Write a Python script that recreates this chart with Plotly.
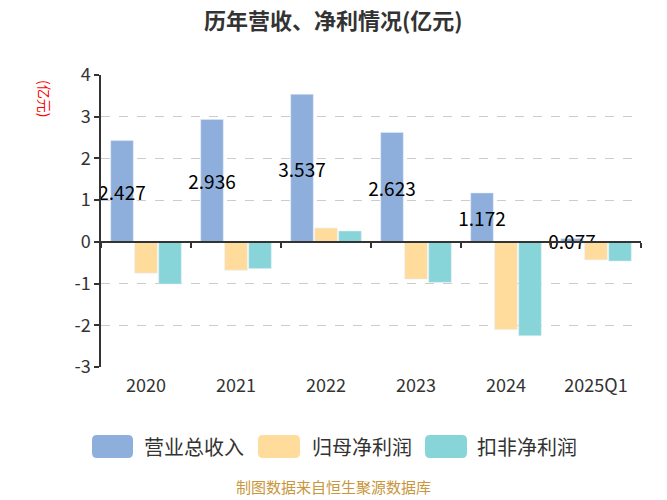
import plotly.graph_objects as go

categories = ["2020", "2021", "2022", "2023", "2024", "2025Q1"]
revenue = [2.427, 2.936, 3.537, 2.623, 1.172, 0.077]
net_profit = [-0.75, -0.68, 0.33, -0.89, -2.10, -0.43]
deducted_profit = [-1.01, -0.64, 0.26, -0.97, -2.25, -0.46]
series_names = ["营业总收入", "归母净利润", "扣非净利润"]
colors = ["#8EAFDC", "#FFDB9C", "#87D5D8"]
y_ticks = [-3, -2, -1, 0, 1, 2, 3, 4]

FONT = "Noto Sans CJK SC, Noto Sans, sans-serif"
W, H = 667, 500
L, R, T, B = 101, 641, 75, 367


def px_x(px):
    return (px - L) / (R - L)


def px_y(py):
    return (B - py) / (B - T)


fig = go.Figure()
fig.add_trace(go.Bar(
    x=categories, y=revenue, name=series_names[0], marker_color=colors[0],
    text=[f"{v:.3f}" for v in revenue], textposition="inside",
    insidetextanchor="middle", constraintext="none", textangle=0,
    insidetextfont=dict(color="#000", size=19, family=FONT),
    showlegend=False,
))
fig.add_trace(go.Bar(x=categories, y=net_profit, name=series_names[1],
                     marker_color=colors[1], showlegend=False))
fig.add_trace(go.Bar(x=categories, y=deducted_profit, name=series_names[2],
                     marker_color=colors[2], showlegend=False))
# invisible helper trace for the zero-line axis with tick marks
fig.add_trace(go.Scatter(x=categories, y=[0] * len(categories), xaxis="x2",
                         mode="markers", marker=dict(opacity=0),
                         showlegend=False, hoverinfo="skip"))

ymin, ymax = y_ticks[0], y_ticks[-1]
fig.update_layout(
    width=W, height=H,
    margin=dict(l=L, r=W - R, t=T, b=H - B),
    paper_bgcolor="white", plot_bgcolor="white",
    font=dict(family=FONT, color="#333"),
    barmode="group", bargap=0.2, bargroupgap=0.06,
    xaxis=dict(type="category", categoryorder="array", categoryarray=categories,
               showline=False, showgrid=False, zeroline=False,
               ticks="outside", ticklen=2, tickcolor="rgba(0,0,0,0)",
               tickfont=dict(size=18, color="#333")),
    xaxis2=dict(type="category", categoryorder="array", categoryarray=categories,
                overlaying="x", matches="x", anchor="free",
                position=(0 - ymin) / (ymax - ymin),
                showline=True, linecolor="#333", linewidth=1.5,
                ticks="outside", tickson="boundaries", ticklen=5,
                tickcolor="#333", tickwidth=1.5,
                showticklabels=False, showgrid=False, zeroline=False),
    yaxis=dict(range=[ymin, ymax], tickvals=y_ticks,
               ticktext=[str(v) for v in y_ticks],
               showline=True, linecolor="#333", linewidth=1.5,
               ticks="outside", ticklen=5, tickcolor="#333", tickwidth=1.5,
               showgrid=True, gridcolor="#CCCCCC", griddash="dash", gridwidth=1,
               zeroline=False, tickfont=dict(size=18, color="#333")),
)

annotations = [
    dict(text="<b>历年营收、净利情况(亿元)</b>", x=px_x(333), y=px_y(19),
         xref="paper", yref="paper", showarrow=False,
         font=dict(size=22, color="#333", family=FONT),
         xanchor="center", yanchor="middle"),
    dict(text="(亿元)", x=px_x(45), y=px_y(98), xref="paper", yref="paper",
         showarrow=False, textangle=90, font=dict(size=14, color="red", family=FONT),
         xanchor="center", yanchor="middle"),
    dict(text="制图数据来自恒生聚源数据库", x=px_x(333), y=px_y(498),
         xref="paper", yref="paper", showarrow=False,
         font=dict(size=15, color="#C8963C", family=FONT),
         xanchor="center", yanchor="bottom", borderpad=0),
]

shapes = []
legend_rects = [(92, 133), (258, 300), (425, 467)]
legend_text_x = [142, 310, 475]
ly0, ly1 = 435, 458
rad = 5
for (x0, x1), tx, name, col in zip(legend_rects, legend_text_x, series_names, colors):
    ax0, ax1 = px_x(x0), px_x(x1)
    rx = rad / (R - L)
    ry = rad / (B - T)
    top, bot = px_y(ly0), px_y(ly1)
    path = (f"M {ax0 + rx},{bot} L {ax1 - rx},{bot} Q {ax1},{bot} {ax1},{bot + ry} "
            f"L {ax1},{top - ry} Q {ax1},{top} {ax1 - rx},{top} "
            f"L {ax0 + rx},{top} Q {ax0},{top} {ax0},{top - ry} "
            f"L {ax0},{bot + ry} Q {ax0},{bot} {ax0 + rx},{bot} Z")
    shapes.append(dict(type="path", path=path, xref="paper", yref="paper",
                       fillcolor=col, line=dict(width=0)))
    annotations.append(dict(text=name, x=px_x(tx), y=px_y(446), xref="paper",
                            yref="paper", showarrow=False, xanchor="left",
                            yanchor="middle",
                            font=dict(size=20, color="#333", family=FONT)))

fig.update_layout(annotations=annotations, shapes=shapes)
fig.write_html("out.html", config={"displayModeBar": False},
               post_script="document.body.style.margin='0';")
